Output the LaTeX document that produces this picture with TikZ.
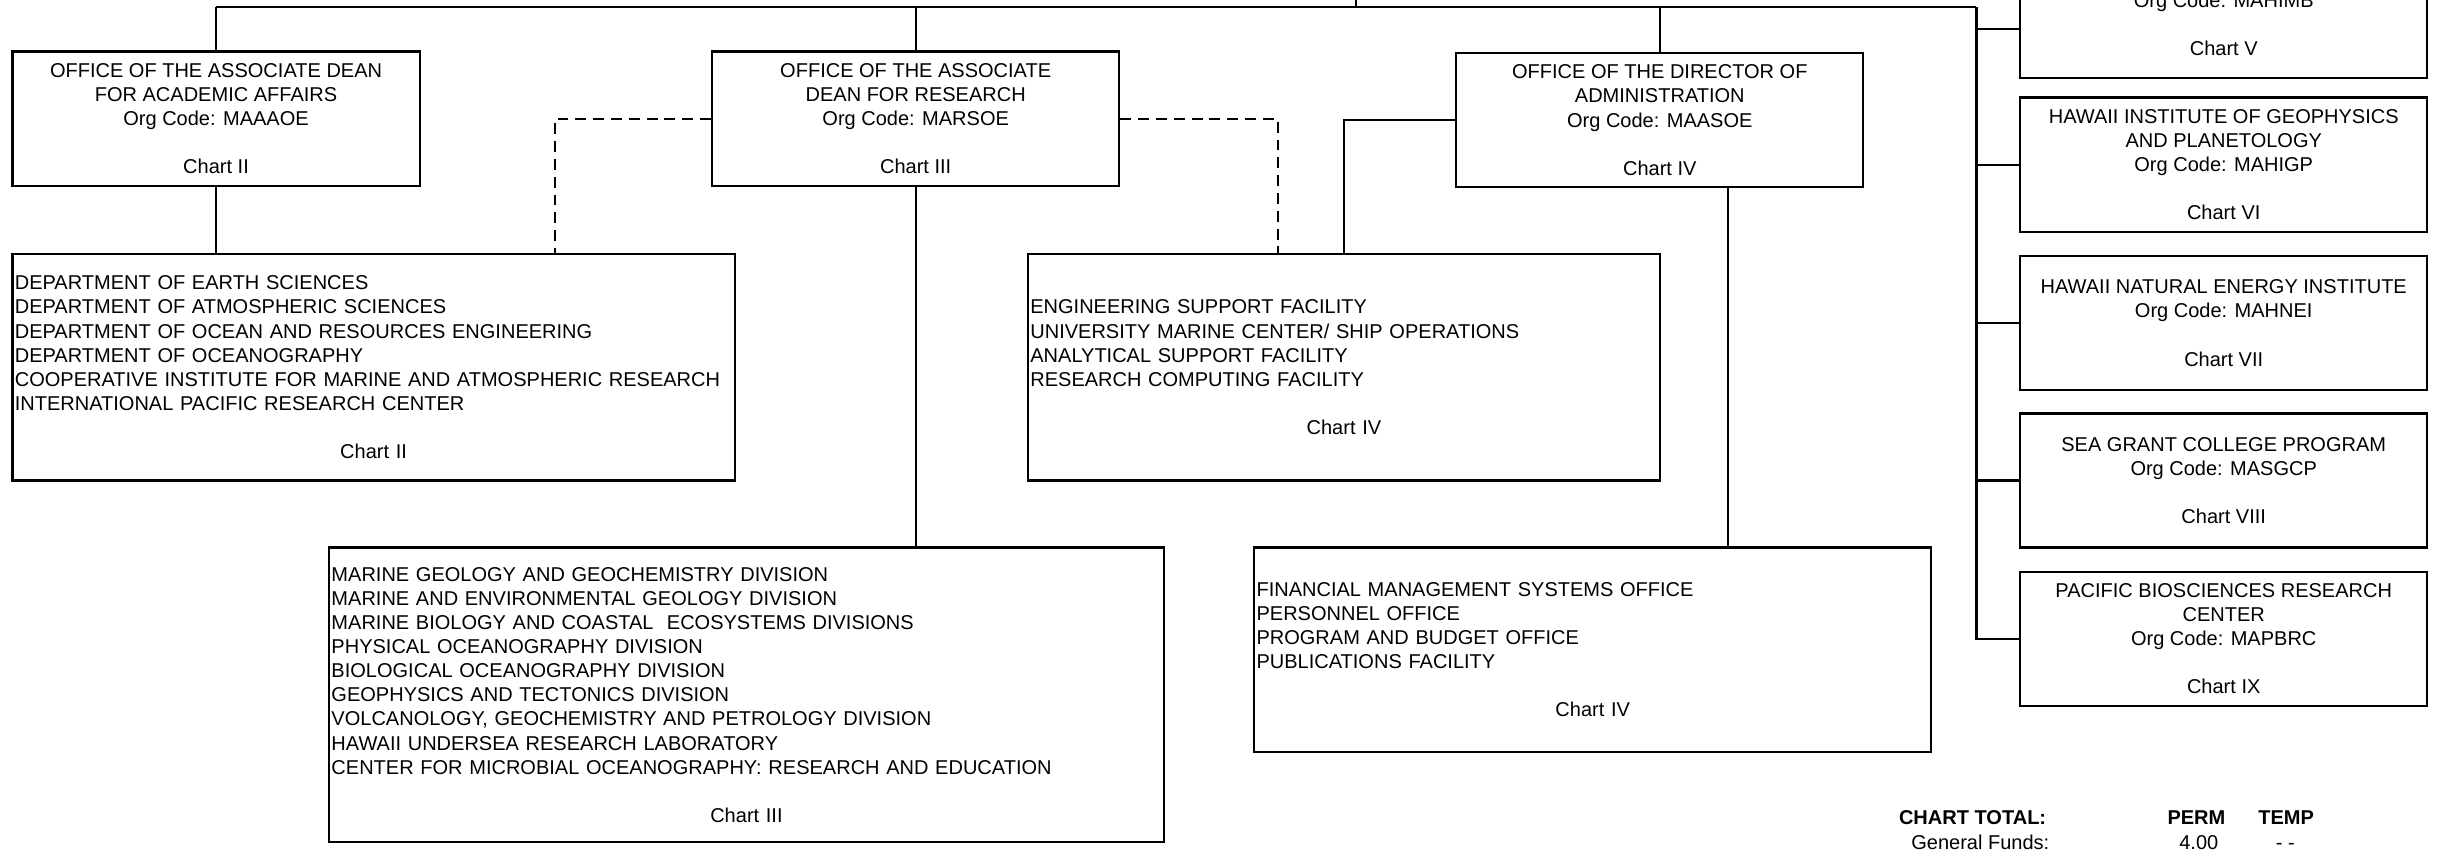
\documentclass[tikz,border=0pt]{standalone}
\usepackage{fontspec}
\setmainfont{Liberation Sans}
\usetikzlibrary{positioning, calc}

\begin{document}
\begin{tikzpicture}[
    every node/.style={font=\fontsize{7.3}{8.8}\selectfont},
    % Office box: fixed size, centered lines
    office/.style={rectangle, draw=black, line width=0.8pt,
        minimum width=5.22cm, minimum height=1.72cm,
        inner sep=0pt, align=center},
    % Unit list: left lines, chart line centered
    units/.style 2 args={rectangle, draw=black, line width=0.8pt,
        inner xsep=0.03cm, inner ysep=0pt, align=left,
        text width=#1, minimum height=#2},
    % Edge styles
    edge/.style={line width=0.75pt},
    dashedge/.style={line width=0.75pt, dash pattern=on 4pt off 2.5pt},
    % Chart totals
    tot/.style={font=\fontsize{7.3}{8.8}\selectfont\bfseries, inner sep=0pt},
    num/.style={inner sep=0pt},
]

\useasboundingbox (0,0) rectangle (31.36,-10.9);
\clip (0,0) rectangle (31.36,-10.9);

% ====================================================
% TOP ROW: OFFICES
% ====================================================
\node[office] (dean-aa) at (2.77, -1.52)
    {OFFICE OF THE ASSOCIATE DEAN\\FOR ACADEMIC AFFAIRS\\Org Code: MAAAOE\\[8.8pt]Chart II};
\node[office] (dean-rs) at (11.74, -1.52)
    {OFFICE OF THE ASSOCIATE\\DEAN FOR RESEARCH\\Org Code: MARSOE\\[8.8pt]Chart III};
\node[office] (dir-ad) at (21.28, -1.54)
    {OFFICE OF THE DIRECTOR OF\\ADMINISTRATION\\Org Code: MAASOE\\[8.8pt]Chart IV};

% ====================================================
% UNIT LISTS
% ====================================================
\node[units={9.20cm}{2.9cm}] (units-aa) at (4.79, -4.71)
    {DEPARTMENT OF EARTH SCIENCES\\
     DEPARTMENT OF ATMOSPHERIC SCIENCES\\
     DEPARTMENT OF OCEAN AND RESOURCES ENGINEERING\\
     DEPARTMENT OF OCEANOGRAPHY\\
     COOPERATIVE INSTITUTE FOR MARINE AND ATMOSPHERIC RESEARCH\\
     INTERNATIONAL PACIFIC RESEARCH CENTER\\[8.8pt]
     \hfill Chart II\hfill\null};

\node[units={8.04cm}{2.9cm}] (units-fac) at (17.23, -4.71)
    {ENGINEERING SUPPORT FACILITY\\
     UNIVERSITY MARINE CENTER/ SHIP OPERATIONS\\
     ANALYTICAL SUPPORT FACILITY\\
     RESEARCH COMPUTING FACILITY\\[8.8pt]
     \hfill Chart IV\hfill\null};

\node[units={10.64cm}{3.78cm}] (units-rs) at (9.57, -8.91)
    {MARINE GEOLOGY AND GEOCHEMISTRY DIVISION\\
     MARINE AND ENVIRONMENTAL GEOLOGY DIVISION\\
     MARINE BIOLOGY AND COASTAL\ \ ECOSYSTEMS DIVISIONS\\
     PHYSICAL OCEANOGRAPHY DIVISION\\
     BIOLOGICAL OCEANOGRAPHY DIVISION\\
     GEOPHYSICS AND TECTONICS DIVISION\\
     VOLCANOLOGY, GEOCHEMISTRY AND PETROLOGY DIVISION\\
     HAWAII UNDERSEA RESEARCH LABORATORY\\
     CENTER FOR MICROBIAL OCEANOGRAPHY: RESEARCH AND EDUCATION\\[8.8pt]
     \hfill Chart III\hfill\null};

\node[units={8.62cm}{2.62cm}] (units-ad) at (20.42, -8.33)
    {FINANCIAL MANAGEMENT SYSTEMS OFFICE\\
     PERSONNEL OFFICE\\
     PROGRAM AND BUDGET OFFICE\\
     PUBLICATIONS FACILITY\\[8.8pt]
     \hfill Chart IV\hfill\null};

% ====================================================
% RIGHT COLUMN: INSTITUTES
% ====================================================
\node[office] (inst-mb) at (28.51, -0.14)
    {\strut\\Org Code: MAHIMB\\[8.8pt]Chart V};
\node[office] (inst-higp) at (28.51, -2.11)
    {HAWAII INSTITUTE OF GEOPHYSICS\\AND PLANETOLOGY\\Org Code: MAHIGP\\[8.8pt]Chart VI};
\node[office] (inst-hnei) at (28.51, -4.14)
    {HAWAII NATURAL ENERGY INSTITUTE\\Org Code: MAHNEI\\[8.8pt]Chart VII};
\node[office] (inst-sg) at (28.51, -6.16)
    {SEA GRANT COLLEGE PROGRAM\\Org Code: MASGCP\\[8.8pt]Chart VIII};
\node[office] (inst-pbrc) at (28.51, -8.19)
    {PACIFIC BIOSCIENCES RESEARCH\\CENTER\\Org Code: MAPBRC\\[8.8pt]Chart IX};

% ====================================================
% CONNECTORS
% ====================================================
\coordinate (bus-l) at (2.77, -0.09);
\coordinate (bus-r) at (25.34, -0.09);
\coordinate (parent) at (17.38, 0.3);
\coordinate (tap-mb) at (25.34, -0.376);

% Bus and drops
\draw[edge] (bus-l) -- (bus-r);
\draw[edge] (parent) -- (parent |- bus-l);
\draw[edge] (dean-aa.north) -- (dean-aa.north |- bus-l);
\draw[edge] (dean-rs.north) -- (dean-rs.north |- bus-l);
\draw[edge] (dir-ad.north) -- (dir-ad.north |- bus-l);

% Right trunk
\draw[edge] (bus-r) |- (inst-pbrc.west);
\draw[edge] (tap-mb) -- (tap-mb -| inst-mb.west);
\draw[edge] (bus-r |- inst-higp.west) -- (inst-higp.west);
\draw[edge] (bus-r |- inst-hnei.west) -- (inst-hnei.west);
\draw[edge] (bus-r |- inst-sg.west) -- (inst-sg.west);

% Offices to unit lists
\draw[edge] (dean-aa.south) -- (dean-aa.south |- units-aa.north);
\draw[edge] (dean-rs.south) -- (dean-rs.south |- units-rs.north);
\draw[edge] (dir-ad.west) -| (units-fac.north);
\draw[edge] ([xshift=0.88cm]dir-ad.south) -- ([xshift=0.88cm]dir-ad.south |- units-ad.north);

% Dashed coordination lines
\draw[dashedge] (dean-rs.west) -| ([xshift=2.33cm]units-aa.north);
\draw[dashedge] (dean-rs.east) -| ([xshift=-0.85cm]units-fac.north);

% ====================================================
% CHART TOTAL
% ====================================================
\node[tot, anchor=base west] (tot-head) at (24.34, -10.57) {CHART TOTAL:};
\node[tot, anchor=base] (tot-perm) at (28.16, -10.57) {PERM};
\node[tot, anchor=base] (tot-temp) at (29.31, -10.57) {TEMP};
\node[num, anchor=base east] (gf-head) at (26.28, -10.89) {General Funds:};
\node[num, anchor=base] (gf-perm) at (28.19, -10.89) {4.00};
\node[num, anchor=base] (gf-temp) at (29.30, -10.89) {- -};

\end{tikzpicture}
\end{document}
